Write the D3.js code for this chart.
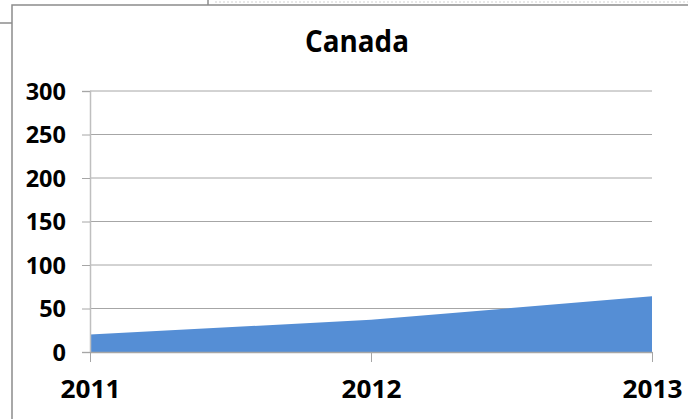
<!DOCTYPE html>
<html>
<head>
<meta charset="utf-8">
<script src="https://cdn.jsdelivr.net/npm/d3@7/dist/d3.min.js"></script>
<style>
  html, body { margin: 0; padding: 0; background: #ffffff; }
  svg { display: block; }
  text { font-family: "Open Sans", "DejaVu Sans", sans-serif; font-weight: bold; fill: #000; }
</style>
</head>
<body>
<svg id="chart" width="688" height="419"></svg>
<script>
const title = "Canada";
const years = ["2011", "2012", "2013"];
const values = [20, 37, 64];
const yTicks = [0, 50, 100, 150, 200, 250, 300];

const svg = d3.select("#chart");

// surrounding worksheet artifacts
svg.append("line").attr("x1", 215).attr("x2", 688).attr("y1", 2).attr("y2", 2)
  .attr("stroke", "#e8e8e8").attr("stroke-width", 2).attr("stroke-dasharray", "2,2");
svg.append("line").attr("x1", 208).attr("x2", 208).attr("y1", 0).attr("y2", 5)
  .attr("stroke", "#8c8c8c").attr("stroke-width", 1.5);
svg.append("line").attr("x1", 0).attr("x2", 12).attr("y1", 23).attr("y2", 23)
  .attr("stroke", "#8c8c8c").attr("stroke-width", 1.5);

// chart frame
svg.append("rect").attr("x", 12).attr("y", 5).attr("width", 700).attr("height", 430)
  .attr("fill", "#fff").attr("stroke", "#8c8c8c").attr("stroke-width", 1.5);

const x = d3.scalePoint().domain(years).range([90, 652]);
const y = d3.scaleLinear().domain([0, 300]).range([352, 91]);

// gridlines
svg.append("g").selectAll("line").data(yTicks.filter(d => d > 0)).join("line")
  .attr("x1", 90).attr("x2", 652)
  .attr("y1", d => y(d)).attr("y2", d => y(d))
  .attr("stroke", "#a6a6a6").attr("stroke-width", 1);

// area
const data = years.map((yr, i) => ({ yr, v: values[i] }));
svg.append("path").datum(data)
  .attr("fill", "#558ed5")
  .attr("d", d3.area().x(d => x(d.yr)).y0(y(0)).y1(d => y(d.v)));

// y axis
const yAxis = svg.append("g").attr("transform", "translate(90,0)")
  .call(d3.axisLeft(y).tickValues(yTicks).tickSize(8).tickPadding(16));
yAxis.select(".domain").attr("stroke", "#bfbfbf").attr("stroke-width", 1.5);
yAxis.selectAll(".tick line").attr("stroke", "#a6a6a6");
yAxis.selectAll(".tick text").attr("font-size", 23.5).attr("font-family", null)
  .attr("dy", "0.36em").attr("x", -24);

// x axis
const xAxis = svg.append("g").attr("transform", "translate(0,352)")
  .call(d3.axisBottom(x).tickSize(10).tickPadding(16).tickSizeOuter(0));
xAxis.select(".domain").attr("stroke", "#a6a6a6").attr("stroke-width", 1.5);
xAxis.selectAll(".tick line").attr("stroke", "#a6a6a6");
xAxis.selectAll(".tick text").attr("font-size", 25).attr("font-family", null)
  .attr("dy", null).attr("y", 46)
  .attr("textLength", 60).attr("lengthAdjust", "spacingAndGlyphs");

// title
svg.append("text").attr("x", 357).attr("y", 52).attr("text-anchor", "middle")
  .attr("font-size", 31).attr("textLength", 104).attr("lengthAdjust", "spacingAndGlyphs")
  .text(title);
</script>
</body>
</html>
